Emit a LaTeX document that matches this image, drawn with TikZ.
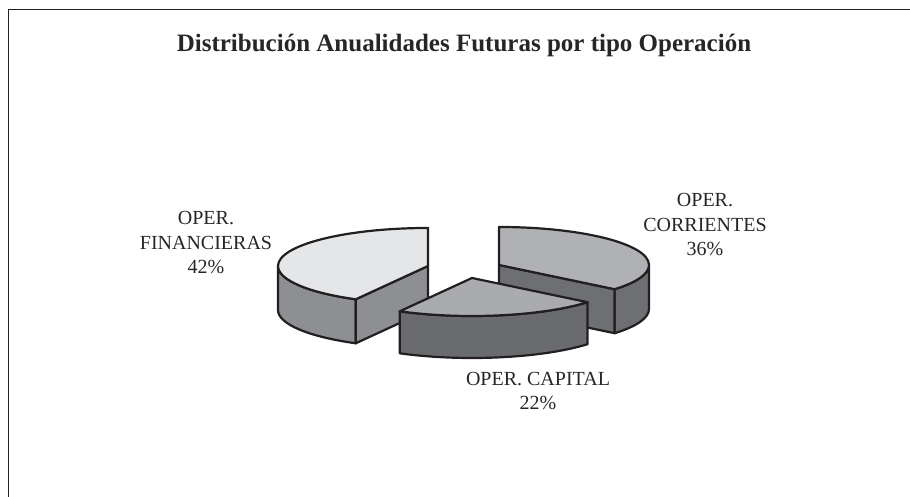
\documentclass[tikz,border=0pt]{standalone}
\usepackage{fontspec}
\setmainfont{Liberation Serif}
\usetikzlibrary{calc}
\definecolor{finTop}{RGB}{229,230,232}
\definecolor{finSide}{RGB}{142,143,147}
\definecolor{corTop}{RGB}{176,177,181}
\definecolor{corSide}{RGB}{110,111,115}
\definecolor{capTop}{RGB}{170,171,175}
\definecolor{capSide}{RGB}{106,107,111}
\definecolor{edge}{RGB}{35,31,32}
\tikzset{
  face/.style={draw=edge,line width=2.2pt,line join=round},
  lbl/.style={align=center,font=\fontsize{20}{24.5}\selectfont,text=black!85,inner sep=0pt},
}
\begin{document}
\begin{tikzpicture}[x=1pt,y=1pt]
\useasboundingbox (0,0) rectangle (910,497);
\draw[line width=1.6pt,edge] (8.5,0) -- (8.5,487.5) -- (910,487.5);
\node[font=\fontsize{25}{30}\selectfont\bfseries,text=black!85] (title) at (464,452) {Distribución Anualidades Futuras por tipo Operación};
% radii
\def\rx{150}\def\ry{38}
% --- Financieras (back left)
\coordinate (cf) at (428,231);
\filldraw[face,fill=finSide] ($(cf)+(180:\rx pt and \ry pt)$) arc[start angle=180,end angle=241.2,x radius=\rx,y radius=\ry] -- ++(0,-44) arc[start angle=241.2,end angle=180,x radius=\rx,y radius=\ry] -- cycle;
\filldraw[face,fill=finSide] (cf) -- ($(cf)+(241.2:\rx pt and \ry pt)$) -- ++(0,-44) -- ($(cf)+(0,-44)$) -- cycle;
\filldraw[face,fill=finTop] (cf) -- ($(cf)+(90:\rx pt and \ry pt)$) arc[start angle=90,end angle=241.2,x radius=\rx,y radius=\ry] -- cycle;
% --- Corrientes (back right)
\coordinate (cc) at (499,232);
\filldraw[face,fill=corSide] ($(cc)+(-39.6:\rx pt and \ry pt)$) arc[start angle=-39.6,end angle=0,x radius=\rx,y radius=\ry] -- ++(0,-44) arc[start angle=0,end angle=-39.6,x radius=\rx,y radius=\ry] -- cycle;
\filldraw[face,fill=corSide] (cc) -- ($(cc)+(-39.6:\rx pt and \ry pt)$) -- ++(0,-44) -- ($(cc)+(0,-44)$) -- cycle;
\filldraw[face,fill=corTop] (cc) -- ($(cc)+(90:\rx pt and \ry pt)$) arc[start angle=90,end angle=-39.6,x radius=\rx,y radius=\ry] -- cycle;
% --- Capital (front)
\coordinate (ck) at (472,219);
\filldraw[face,fill=capSide] ($(ck)+(-118.8:\rx pt and \ry pt)$) arc[start angle=-118.8,end angle=-39.6,x radius=\rx,y radius=\ry] -- ++(0,-42) arc[start angle=-39.6,end angle=-118.8,x radius=\rx,y radius=\ry] -- cycle;
\filldraw[face,fill=capTop] (ck) -- ($(ck)+(-118.8:\rx pt and \ry pt)$) arc[start angle=-118.8,end angle=-39.6,x radius=\rx,y radius=\ry] -- cycle;
% labels
\node[lbl] (lfin) at (206,254) {OPER.\\FINANCIERAS\\42\%};
\node[lbl] (lcor) at (705,272) {OPER.\\CORRIENTES\\36\%};
\node[lbl] (lcap) at (538,106) {OPER. CAPITAL\\22\%};
\end{tikzpicture}
\end{document}
